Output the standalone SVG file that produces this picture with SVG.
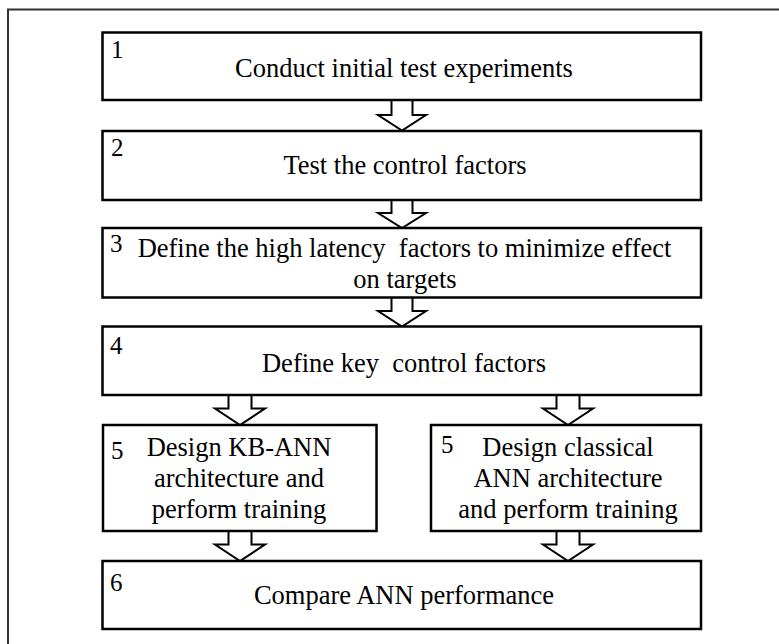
<svg xmlns="http://www.w3.org/2000/svg" width="779" height="644" viewBox="0 0 779 644">
<style>
.box{fill:#fff;stroke:#000;stroke-width:2.5}
.arr{fill:#fff;stroke:#000;stroke-width:2;stroke-linejoin:miter}
text{font-family:"Liberation Serif","Times New Roman",serif;font-size:26.5px;fill:#000}
.c{text-anchor:middle}
.n{font-size:25px}
.pre{white-space:pre}
</style>
<rect width="779" height="644" fill="#fff"/>
<path d="M8 644 V9.5 H779" fill="none" stroke="#333" stroke-width="2"/>
<g id="connectors">
<path class="arr" d="M391.5 100 V115 H378 L402 130.5 L426 115 H412.5 V100"/>
<path class="arr" d="M391.5 200 V213 H378 L402 228 L426 213 H412.5 V200"/>
<path class="arr" d="M391.5 297.5 V311 H378 L402 326.5 L426 311 H412.5 V297.5"/>
<path class="arr" d="M228.5 395 V408.5 H215 L240 425 L265 408.5 H251.5 V395"/>
<path class="arr" d="M556.5 395 V408.5 H543 L568 425 L593 408.5 H579.5 V395"/>
<path class="arr" d="M228.5 531 V544.5 H215 L240 561 L265 544.5 H251.5 V531"/>
<path class="arr" d="M556.5 531 V544.5 H543 L568 561 L593 544.5 H579.5 V531"/>
</g>
<g id="node1">
<rect class="box" x="102.5" y="32.5" width="598.5" height="67.5"/>
<text class="n" x="111" y="57.5">1</text>
<text class="c" x="404" y="77">Conduct initial test experiments</text>
</g>
<g id="node2">
<rect class="box" x="102.5" y="131" width="598.5" height="69"/>
<text class="n" x="111" y="156">2</text>
<text class="c" x="405" y="174">Test the control factors</text>
</g>
<g id="node3">
<rect class="box" x="102.5" y="228" width="598.5" height="69.5"/>
<text class="n" x="110" y="252">3</text>
<text class="c pre" x="404.5" y="257" xml:space="preserve">Define the high latency  factors to minimize effect</text>
<text class="c" x="405" y="288">on targets</text>
</g>
<g id="node4">
<rect class="box" x="102.5" y="326.5" width="598.5" height="68.5"/>
<text class="n" x="110" y="354">4</text>
<text class="c pre" x="404" y="372" xml:space="preserve">Define key  control factors</text>
</g>
<g id="node5a">
<rect class="box" x="103" y="425" width="273.5" height="106"/>
<text class="n" x="111" y="459">5</text>
<text class="c" x="239" y="456">Design KB-ANN</text>
<text class="c" x="239" y="487">architecture and</text>
<text class="c" x="239" y="518">perform training</text>
</g>
<g id="node5b">
<rect class="box" x="431" y="425" width="270" height="106"/>
<text class="n" x="441" y="453">5</text>
<text class="c" x="568" y="456">Design classical</text>
<text class="c" x="568" y="487">ANN architecture</text>
<text class="c" x="568" y="518">and perform training</text>
</g>
<g id="node6">
<rect class="box" x="102.5" y="561" width="598.5" height="68"/>
<text class="n" x="110" y="591">6</text>
<text class="c" x="404" y="604">Compare ANN performance</text>
</g>
</svg>
